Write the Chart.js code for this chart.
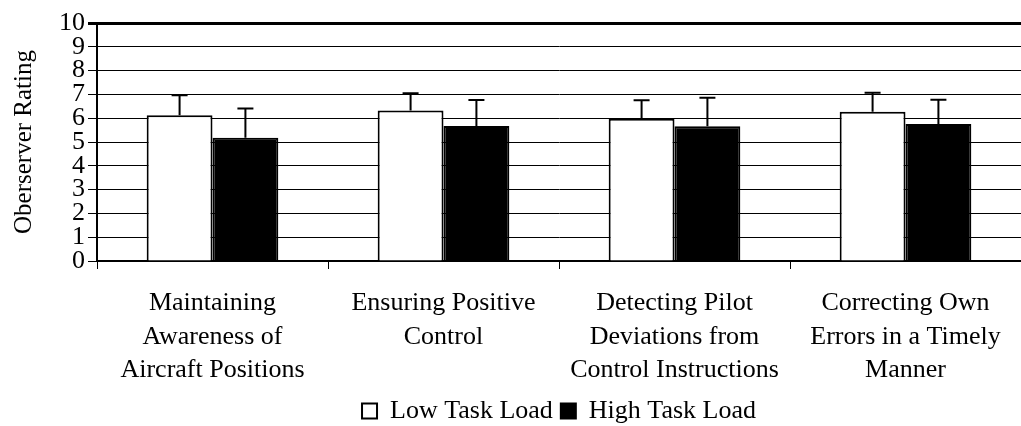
<!DOCTYPE html>
<html>
<head>
<meta charset="utf-8">
<script src="https://cdn.jsdelivr.net/npm/chart.js@4.4.0/dist/chart.umd.min.js"></script>
<style>
  html, body { margin: 0; padding: 0; background: #fff; }
  #wrap { width: 1021px; height: 426px; }
</style>
</head>
<body>
<div id="wrap"><canvas id="barchart"></canvas></div>
<script>
// chart values
const categories = [
    ['Maintaining', 'Awareness of', 'Aircraft Positions'],
    ['Ensuring Positive', 'Control'],
    ['Detecting Pilot', 'Deviations from', 'Control Instructions'],
    ['Correcting Own', 'Errors in a Timely', 'Manner']
];
const lowLoad = [6.12, 6.32, 5.98, 6.27];
const lowLoadErr = [6.96, 7.05, 6.75, 7.07];   // top of error bar
const highLoad = [5.18, 5.67, 5.66, 5.76];
const highLoadErr = [6.41, 6.76, 6.86, 6.78];
const yTicks = [0, 1, 2, 3, 4, 5, 6, 7, 8, 9, 10];

const serif = "'Liberation Serif', serif";
Chart.defaults.font.family = serif;

// draw the upward error bars through the y scale
const errorBars = {
    id: 'errorBars',
    afterDatasetsDraw(chart) {
        const ctx = chart.ctx;
        const y = chart.scales.y;
        const tops = [lowLoadErr, highLoadErr];
        ctx.save();
        ctx.strokeStyle = '#000';
        ctx.lineWidth = 2;
        chart.data.datasets.forEach(function (ds, di) {
            const meta = chart.getDatasetMeta(di);
            meta.data.forEach(function (bar, i) {
                const x = bar.x;
                const yTop = y.getPixelForValue(tops[di][i]);
                const yBase = y.getPixelForValue(ds.data[i]);
                ctx.beginPath();
                ctx.moveTo(x, yBase);
                ctx.lineTo(x, yTop);
                ctx.moveTo(x - 8, yTop);
                ctx.lineTo(x + 8, yTop);
                ctx.stroke();
            });
        });
        ctx.restore();
    }
};

const ctx = document.getElementById('barchart').getContext('2d');

const barchart = new Chart(ctx, {
    type: 'bar',
    data: {
        labels: categories,
        datasets: [{
            label: 'Low Task Load',
            data: lowLoad,
            backgroundColor: '#fff',
            borderColor: '#000',
            borderWidth: 2,
            categoryPercentage: 0.57,
            barPercentage: 1.0
        }, {
            label: 'High Task Load',
            data: highLoad,
            backgroundColor: '#000',
            borderColor: '#000',
            borderWidth: 2,
            categoryPercentage: 0.57,
            barPercentage: 1.0
        }]
    },
    options: {
        responsive: true,
        maintainAspectRatio: false,
        animation: false,
        layout: {
            padding: { top: 23, right: 0, left: 0, bottom: -8 }
        },
        plugins: {
            tooltip: { enabled: false },
            legend: {
                position: 'bottom',
                fullSize: false,
                labels: {
                    color: '#000',
                    font: { family: serif, size: 26 },
                    boxWidth: 15,
                    boxHeight: 15,
                    padding: 8
                }
            }
        },
        scales: {
            x: {
                afterFit: function (scale) { scale.height = 129; },
                border: { color: '#000', width: 2 },
                grid: {
                    offset: true,
                    drawOnChartArea: false,
                    color: '#000',
                    tickLength: 8
                },
                ticks: {
                    color: '#000',
                    font: { family: serif, size: 26, lineHeight: 1.28 },
                    maxRotation: 0,
                    padding: 18
                }
            },
            y: {
                min: 0,
                max: 10,
                afterFit: function (scale) { scale.width = 97; },
                afterBuildTicks: function (scale) {
                    scale.ticks = yTicks.map(v => ({ value: v }));
                },
                border: { color: '#000', width: 2 },
                grid: {
                    color: '#000',
                    lineWidth: function (c) { return c.tick && c.tick.value === 10 ? 3 : 1; },
                    tickLength: 9
                },
                ticks: {
                    color: '#000',
                    font: { family: serif, size: 26 },
                    autoSkip: false,
                    padding: 3
                },
                title: {
                    display: true,
                    text: 'Oberserver Rating',
                    color: '#000',
                    font: { family: serif, size: 25 },
                    padding: { top: 9, bottom: 0 }
                }
            }
        }
    },
    plugins: [errorBars]
});
</script>
</body>
</html>
